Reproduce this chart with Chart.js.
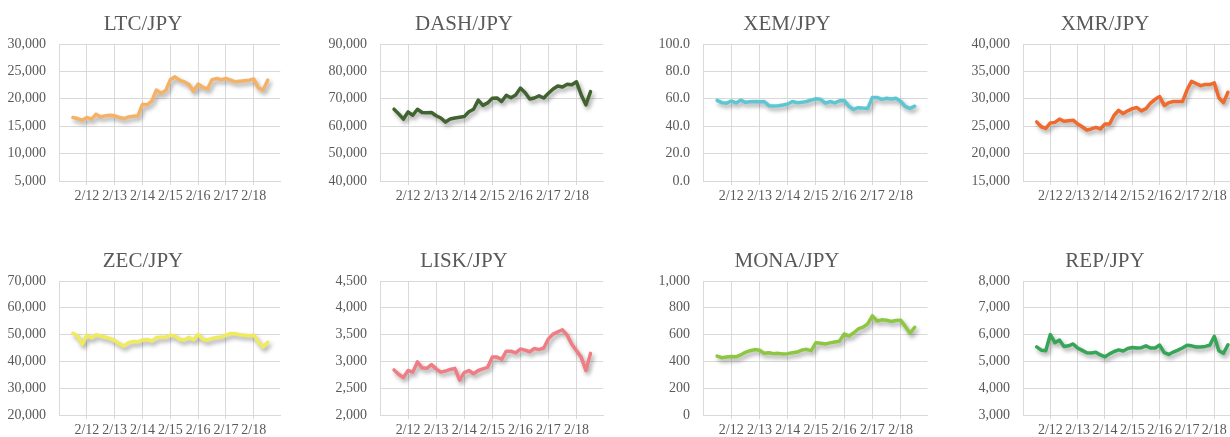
<!DOCTYPE html>
<html><head><meta charset="utf-8">
<script src="https://cdn.jsdelivr.net/npm/chart.js@4.4.1/dist/chart.umd.min.js"></script>
<style>
html,body{margin:0;padding:0;background:#fff;}
body{width:1230px;height:437px;overflow:hidden;position:relative;}
canvas{position:absolute;}
</style></head><body>
<script>
// ---------- DATA ----------
const xTickLabels = ['2/12','2/13','2/14','2/15','2/16','2/17','2/18'];
const sampleStart = 0.5;      // days after 2/11 00:00
const sampleStep = 1/6;       // 4-hour samples
const titles = ['LTC/JPY','DASH/JPY','XEM/JPY','XMR/JPY','ZEC/JPY','LISK/JPY','MONA/JPY','REP/JPY'];
const ltc  = [16600,16400,16100,16600,16300,17200,16700,16900,17000,16900,16600,16400,16700,16800,16900,19000,18900,19600,21600,21000,21500,23500,24000,23400,23100,22600,21400,22700,22100,21800,23500,23700,23500,23700,23400,23100,23200,23300,23400,23600,22000,21600,23400];
const dash = [66200,64500,62600,65200,64000,66200,65000,64900,65000,63800,63000,61500,62600,63000,63300,63500,65300,66200,69500,67600,68500,70200,70300,69000,71300,70400,71400,73900,72300,69900,70300,71100,70300,72000,73600,74700,74300,75300,75100,76200,71500,67800,72600];
const xem  = [58.8,57.2,56.8,58.4,57.0,59.0,57.4,57.8,58.0,57.8,58.0,55.0,54.8,54.9,55.5,56.2,58.0,57.2,57.4,58.0,59.0,60.0,59.6,56.8,58.0,57.0,58.5,58.8,54.6,52.2,53.5,53.2,53.0,61.0,61.0,59.6,60.4,59.8,60.4,58.2,54.4,53.0,54.6];
const xmr  = [25800,24900,24600,25600,25700,26300,25900,26000,26100,25400,24900,24300,24500,24800,24500,25400,25400,27000,27900,27300,27800,28200,28400,27800,28200,29200,29900,30400,28800,29300,29500,29500,29500,31600,33200,32800,32400,32600,32600,32900,30200,29300,31200];
const zec  = [50500,49500,46300,49800,48700,50000,49400,49000,48600,47700,46600,45700,47000,47400,47300,48000,48200,47600,48900,49000,49000,49800,49500,48200,48000,49000,48000,50100,48200,47900,48600,48900,49100,49800,50400,50300,49900,49800,49600,49800,47200,45300,47200];
const lisk = [2840,2760,2700,2830,2800,2990,2880,2870,2940,2860,2800,2820,2850,2870,2650,2790,2830,2770,2830,2860,2890,3080,3080,3040,3190,3190,3160,3230,3210,3180,3240,3220,3250,3420,3510,3550,3590,3490,3320,3200,3080,2830,3150];
const mona = [440,428,432,436,434,448,468,480,488,484,460,464,458,460,455,458,464,470,484,490,480,540,535,530,538,545,550,605,590,612,642,655,680,740,702,710,708,698,705,708,660,610,655];
const rep  = [5540,5420,5400,6000,5700,5800,5560,5580,5650,5500,5410,5320,5310,5340,5240,5170,5280,5370,5430,5390,5480,5520,5500,5510,5580,5500,5500,5610,5330,5260,5350,5420,5500,5600,5580,5540,5540,5560,5600,5940,5400,5300,5620];
const seriesList = [ltc, dash, xem, xmr, zec, lisk, mona, rep];
const yMins  = [5000, 40000, 0, 15000, 20000, 2000, 0, 3000];
const yMaxs  = [30000, 90000, 100, 40000, 70000, 4500, 1000, 8000];
const ySteps = [5000, 10000, 20, 5000, 10000, 500, 200, 1000];
const yDecimals = [0,0,1,0,0,0,0,0];
const xMin = 0, xMax = 7.95;

// ---------- STYLE / LAYOUT ----------
const colors = ['#F5B266','#41632F','#5CC7D2','#EF6A2C','#EFEB5C','#F07C84','#8DC640','#35A556'];
const FONT = "'Liberation Serif','Times New Roman',serif";
const colLeft = [0,320,640,960];
const plotLeftRel = [59,60,63,63];
const dayWidth = [27.83,28.07,28.23,27.33];
const titleCenterRel = [143,144,147,145];
const rowTop = [0,237];
const rowHeight = [215,200];
const plotHeight = [137,134];
const PLOT_TOP = 44, CANVAS_W = 300;

Chart.defaults.font.family = FONT;

const shadowPlugin = {
  id:'lineShadow',
  beforeDatasetsDraw(chart){ const c=chart.ctx; c.save(); c.shadowColor='rgba(0,0,0,0.35)'; c.shadowBlur=4; c.shadowOffsetX=2; c.shadowOffsetY=3; },
  afterDatasetsDraw(chart){ chart.ctx.restore(); }
};
const titlePlugin = {
  id:'panelTitle',
  afterDraw(chart, args, o){
    const c=chart.ctx; c.save();
    c.font = o.size+'px '+FONT; c.fillStyle=o.color; c.textAlign='center'; c.textBaseline='alphabetic';
    c.fillText(o.text, o.x, o.y); c.restore();
  }
};

seriesList.forEach((series, idx) => {
  const col = idx % 4, row = Math.floor(idx/4);
  const cv = document.createElement('canvas');
  cv.width = CANVAS_W; cv.height = rowHeight[row];
  cv.style.left = colLeft[col]+'px'; cv.style.top = rowTop[row]+'px';
  document.body.appendChild(cv);
  const pl = plotLeftRel[col];
  const pw = (xMax - xMin) * dayWidth[col];
  const xh = rowHeight[row] - PLOT_TOP - plotHeight[row];
  const dec = yDecimals[idx];
  new Chart(cv, {
    type:'line',
    data:{ datasets:[{
      data: series.map((v,i)=>({x: sampleStart + i*sampleStep, y: v})),
      borderColor: colors[idx], borderWidth: 3.5, pointRadius: 0, tension: 0,
      borderJoinStyle:'round', borderCapStyle:'round', fill:false
    }]},
    options:{
      responsive:false, animation:false, devicePixelRatio:1, events:[],
      layout:{ padding:{ top: PLOT_TOP, left:0, right: CANVAS_W - pl - pw, bottom:0 } },
      plugins:{ legend:{display:false}, tooltip:{enabled:false}, title:{display:false},
        panelTitle:{ text: titles[idx], x: titleCenterRel[col], y: 29.5, size: 21, color:'#595959' } },
      scales:{
        x:{ type:'linear', min:xMin, max:xMax,
          afterBuildTicks(s){ s.ticks = xTickLabels.map((_,i)=>({value:i+1})); },
          ticks:{ callback:(v)=> xTickLabels[v-1] ?? '', autoSkip:false, maxRotation:0, minRotation:0,
                  font:{size:14}, color:'#595959', padding:3 },
          grid:{ color:'#d9d9d9', tickLength:4, drawTicks:true },
          border:{ color:'#d9d9d9' },
          afterFit(s){ s.height = xh; }
        },
        y:{ min:yMins[idx], max:yMaxs[idx],
          ticks:{ stepSize: ySteps[idx], font:{size:14}, color:'#595959', padding:13,
                  callback:(v)=> dec ? Number(v).toFixed(dec) : Number(v).toLocaleString('en-US') },
          grid:{ color:'#d9d9d9', drawTicks:false },
          border:{ color:'#d9d9d9' },
          afterFit(s){ s.width = pl; }
        }
      }
    },
    plugins:[shadowPlugin, titlePlugin]
  });
});
</script>
</body></html>
